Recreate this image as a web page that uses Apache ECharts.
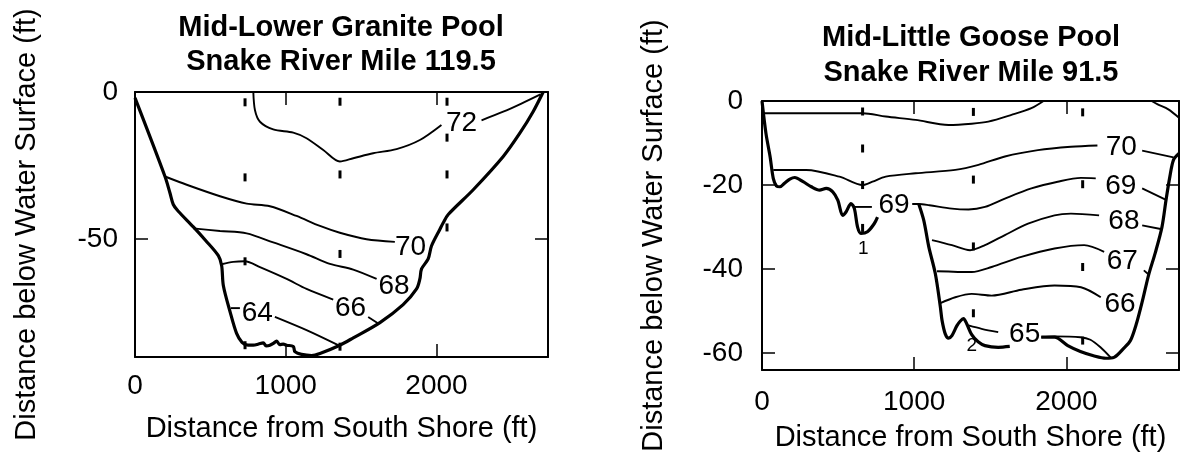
<!DOCTYPE html>
<html><head><meta charset="utf-8">
<script src="https://cdn.jsdelivr.net/npm/echarts@6/dist/echarts.min.js"></script>
<style>html,body{margin:0;padding:0;background:#fff}#c{width:1183px;height:453px}</style>
</head><body><div id="c"></div>
<script>
// ---------------- Left panel: Mid-Lower Granite Pool, Snake River Mile 119.5 ----------------
const leftTitle = ['Mid-Lower Granite Pool', 'Snake River Mile 119.5'];
const leftXLabels = [0, 1000, 2000];
const leftYLabels = [0, -50];
const leftYTicks = [-50];
const leftXRange = [0, 2740];
const leftYRange = [-90, 0];

const leftBank = [[0,-2],[199,-28.7],[232,-34.3],[254,-38.2],[287,-40.5],[387,-45.8],[470,-50.5],[553,-55.6],[575,-59],[586,-65.7],[630,-74.5],[674,-82],[710,-85],[750,-86],[785,-86],[820,-85.6],[851,-85.2],[870,-86.2],[895,-86],[920,-85.3],[939,-84.6],[960,-85.8],[984,-85.6],[1006,-86],[1050,-86.4],[1061,-88.2],[1105,-89.1],[1172,-89.5],[1227,-88.8],[1359,-86],[1448,-83.5],[1625,-78.3],[1779,-72.2],[1868,-66.9],[1890,-63.5],[1901,-60.1],[1945,-56.7],[1967,-52.3],[2023,-46.6],[2045,-44.4],[2078,-41.6],[2244,-33.2],[2443,-21.9],[2553,-14],[2641,-6.7],[2708,0]];
const leftC72a = [[785,0],[796,-6.2],[829,-10.1],[917,-12.7],[1050,-13.8],[1138,-15.7],[1249,-19.7],[1359,-23.6],[1448,-22.5],[1580,-20.8],[1735,-19.4],[1890,-16.3],[2033,-11.2]];
const leftC72b = [[2299,-9.6],[2443,-6.7],[2560,-4],[2690,-0.8]];
const leftC70 = [[199,-28.7],[343,-31.5],[564,-35.4],[741,-37.9],[895,-38.8],[1072,-42.1],[1227,-45.5],[1359,-47.8],[1536,-50],[1724,-50.9]];
const leftC68 = [[387,-46.3],[564,-47.2],[741,-48],[917,-51.1],[1138,-55.1],[1293,-58.4],[1448,-60.3],[1603,-63.5]];
const leftC66a = [[575,-58.5],[652,-57.7],[729,-57.5],[829,-59.5],[1006,-63.5],[1138,-66.9],[1315,-70.5]];
const leftC66b = [[1547,-76.4],[1614,-78.6]];
const leftC64a = [[636,-73.4],[696,-73.4]];
const leftC64b = [[928,-76.4],[1138,-80.9],[1348,-86]];
const leftLabels = [[2166,-10.7,'72'],[1828,-52.8,'70'],[1718,-66,'68'],[1430,-73.6,'66'],[811,-75.3,'64']];
const leftSamples = [[730,-3.5],[730,-29],[730,-57.5],[730,-86],[1360,-3.3],[1360,-28],[1360,-55],[1360,-86.5],[2070,-3.3],[2070,-15.5],[2070,-28],[2070,-46]];

// ---------------- Right panel: Mid-Little Goose Pool, Snake River Mile 91.5 ----------------
const rightTitle = ['Mid-Little Goose Pool', 'Snake River Mile 91.5'];
const rightXLabels = [0, 1000, 2000];
const rightYLabels = [0, -20, -40, -60];
const rightYTicks = [-20, -40, -60];
const rightXRange = [0, 2740];
const rightYRange = [-64, 0];

const rightBankA = [[0,0],[26,-7.7],[53,-13.2],[74,-18.4],[95,-20.2],[118,-20.4],[150,-19.5],[183,-18.6],[215,-18.2],[270,-19.2],[324,-20.4],[378,-21.2],[422,-20.8],[465,-21.6],[498,-23.6],[530,-27.2],[552,-26.4],[585,-24.4],[607,-25.6],[628,-30],[650,-31.5],[693,-31.1],[737,-29.2],[759,-27.6]];
const rightBankB = [[1030,-24.5],[1063,-28.4],[1096,-34.7],[1139,-41.1],[1172,-49],[1183,-52.2],[1204,-55.4],[1226,-56.4],[1248,-55.8],[1280,-53.5],[1302,-52.4],[1324,-51.8],[1345,-53],[1378,-55.6],[1420,-57.3],[1465,-58.2],[1552,-58.6],[1628,-58.4]];
const rightBankC = [[1835,-56.2],[1922,-56.2],[2009,-58.2],[2092,-59.6],[2178,-60.6],[2260,-61.2],[2313,-61],[2378,-58.8],[2421,-57],[2460,-53],[2500,-47.5],[2541,-41.3],[2585,-36],[2628,-30],[2655,-23.5],[2680,-18],[2704,-14],[2740,-12.5]];
const rightC71a = [[10,-2.9],[291,-2.9],[661,-2.9],[813,-3.7],[1009,-4.5],[1226,-5.7],[1378,-5.4],[1487,-4.9],[1639,-3.3],[1770,-1.7],[1850,0]];
const rightC71b = [[2560,0],[2600,-0.8],[2670,-2],[2740,-4]];
const rightC70a = [[74,-16.4],[291,-16.4],[509,-18],[661,-20],[726,-19.2],[813,-18],[1009,-17.2],[1270,-16.4],[1422,-15.2],[1596,-13.2],[1813,-11.7],[2030,-10.9],[2204,-10.6]];
const rightC70b = [[2498,-11.8],[2704,-13.4]];
const rightC69a = [[607,-25.2],[722,-25.2]];
const rightC69b = [[987,-24.5],[1030,-24.5],[1100,-24.8],[1248,-25.6],[1357,-25.8],[1465,-25.2],[1596,-23.2],[1770,-20.8],[1943,-19.2],[2096,-18.3],[2193,-18.4]];
const rightC69c = [[2498,-20.8],[2655,-23.5]];
const rightC68a = [[1117,-33.1],[1248,-34.3],[1367,-35.5],[1465,-34.3],[1596,-31.9],[1748,-29.2],[1922,-27.2],[2030,-26.8],[2215,-27.2]];
const rightC68b = [[2498,-29.6],[2628,-30.5]];
const rightC67a = [[1150,-40.5],[1378,-40.7],[1509,-39.5],[1704,-37.1],[1922,-35.1],[2117,-34.3],[2248,-35.9]];
const rightC67b = [[2509,-40.3],[2541,-41.3]];
const rightC66 = [[1172,-48.1],[1270,-46.7],[1378,-45.9],[1509,-46.3],[1704,-44.9],[1922,-43.9],[2096,-44.3],[2226,-46.7]];
const rightC65a = [[1357,-53.4],[1443,-54.2],[1552,-55]];
const rightC65b = [[1835,-56.2],[1922,-56],[2092,-56.2],[2158,-56.8],[2224,-58.6],[2290,-61]];
const rightLabels = [[2361,-11,'70'],[2357,-20.2,'69'],[867,-24.8,'69'],[2378,-28.5,'68'],[2367,-38.1,'67'],[2352,-48.4,'66'],[1726,-55.4,'65']];
const rightSmallLabels = [[665,-35.2,'1'],[1378,-58.3,'2']];
const rightSamples = [[661,-2.5],[661,-11.3],[661,-20],[661,-30.2],[1389,-2.6],[1389,-18.7],[1389,-34.6],[1389,-50.5],[2107,-2.7],[2107,-19.8],[2107,-39.5],[2107,-57]];

const xName = 'Distance from South Shore (ft)';
const yName = 'Distance below Water Surface (ft)';

// ---------------- chart ----------------
const FONT = '"Liberation Sans", Arial, Helvetica, sans-serif';
const BLACK = '#000';
const CONTOUR_W = 1.9;
const BANK_W = 3.2;
const chart = echarts.init(document.getElementById('c'), null, {renderer: 'canvas'});

function lineS(data, gi, width) {
  return {type: 'line', data: data, xAxisIndex: gi * 2, yAxisIndex: gi * 2, symbol: 'none',
    smooth: 0.3, silent: true, lineStyle: {color: BLACK, width: width, opacity: 1}, z: width > 2.5 ? 3 : 2};
}
function labelS(data, gi, size) {
  return {type: 'scatter', data: data, xAxisIndex: gi * 2, yAxisIndex: gi * 2, symbolSize: 0, silent: true,
    itemStyle: {opacity: 1},
    label: {show: true, position: 'inside', formatter: p => p.value[2], fontSize: size, color: BLACK,
      opacity: 1, fontFamily: FONT}, z: 5};
}
function sampleS(data, gi) {
  return {type: 'scatter', data: data, xAxisIndex: gi * 2, yAxisIndex: gi * 2, symbol: 'rect',
    symbolSize: [3, 8], itemStyle: {color: BLACK, opacity: 1}, silent: true, z: 4};
}
const axisLine = {show: true, onZero: false, lineStyle: {color: BLACK, width: 2}};
const plainNum = v => String(v);
function xAxes(gi, range, labels, gap, margin) {
  return [
    {gridIndex: gi, type: 'value', position: 'bottom', min: range[0], max: range[1],
      axisLine: axisLine, splitLine: {show: false},
      axisTick: {show: true, inside: true, length: 13, customValues: [1000, 2000], lineStyle: {color: BLACK, width: 1.5}},
      axisLabel: {customValues: labels, formatter: plainNum, fontSize: 28, color: BLACK, fontFamily: FONT, margin: margin},
      name: xName, nameLocation: 'middle', nameGap: gap,
      nameTextStyle: {fontSize: 29, color: BLACK, fontFamily: FONT}},
    {gridIndex: gi, type: 'value', position: 'top', min: range[0], max: range[1],
      axisLine: axisLine, splitLine: {show: false},
      axisTick: {show: true, inside: true, length: 13, customValues: [1000, 2000], lineStyle: {color: BLACK, width: 1.5}},
      axisLabel: {show: false}}
  ];
}
function yAxes(gi, range, labels, ticks, gap, margin) {
  return [
    {gridIndex: gi, type: 'value', position: 'left', min: range[0], max: range[1],
      axisLine: axisLine, splitLine: {show: false},
      axisTick: {show: true, inside: true, length: 13, customValues: ticks, lineStyle: {color: BLACK, width: 1.5}},
      axisLabel: {customValues: labels, formatter: plainNum, fontSize: 28, color: BLACK, fontFamily: FONT, margin: margin},
      name: yName, nameLocation: 'middle', nameGap: gap, nameRotate: 90,
      nameTextStyle: {fontSize: 29, color: BLACK, fontFamily: FONT}},
    {gridIndex: gi, type: 'value', position: 'right', min: range[0], max: range[1],
      axisLine: axisLine, splitLine: {show: false},
      axisTick: {show: true, inside: true, length: 13, customValues: ticks, lineStyle: {color: BLACK, width: 1.5}},
      axisLabel: {show: false}}
  ];
}
function titleText(lines, cx, y1, y2) {
  return lines.map((t, i) => ({type: 'text', x: cx, y: i === 0 ? y1 : y2, silent: true,
    style: {text: t, textAlign: 'center', textVerticalAlign: 'middle', fill: BLACK,
      font: 'bold 29px ' + FONT}}));
}

const series = [
  lineS(leftBank, 0, BANK_W), lineS(leftC72a, 0, CONTOUR_W), lineS(leftC72b, 0, CONTOUR_W), lineS(leftC70, 0, CONTOUR_W),
  lineS(leftC68, 0, CONTOUR_W), lineS(leftC66a, 0, CONTOUR_W), lineS(leftC66b, 0, CONTOUR_W), lineS(leftC64a, 0, CONTOUR_W),
  lineS(leftC64b, 0, CONTOUR_W), labelS(leftLabels, 0, 28), sampleS(leftSamples, 0),
  lineS(rightBankA, 1, BANK_W), lineS(rightBankB, 1, BANK_W), lineS(rightBankC, 1, BANK_W),
  lineS(rightC71a, 1, CONTOUR_W), lineS(rightC71b, 1, CONTOUR_W), lineS(rightC70a, 1, CONTOUR_W), lineS(rightC70b, 1, CONTOUR_W),
  lineS(rightC69a, 1, CONTOUR_W), lineS(rightC69b, 1, CONTOUR_W), lineS(rightC69c, 1, CONTOUR_W),
  lineS(rightC68a, 1, CONTOUR_W), lineS(rightC68b, 1, CONTOUR_W), lineS(rightC67a, 1, CONTOUR_W), lineS(rightC67b, 1, CONTOUR_W),
  lineS(rightC66, 1, CONTOUR_W), lineS(rightC65a, 1, CONTOUR_W), lineS(rightC65b, 1, CONTOUR_W),
  labelS(rightLabels, 1, 28), labelS(rightSmallLabels, 1, 19), sampleS(rightSamples, 1)
];

chart.setOption({
  animation: false,
  backgroundColor: '#fff',
  grid: [
    {left: 135, top: 92, width: 413, height: 265, containLabel: false, outerBoundsMode: 'none'},
    {left: 762, top: 101, width: 417, height: 269, containLabel: false, outerBoundsMode: 'none'}
  ],
  xAxis: [].concat(xAxes(0, leftXRange, leftXLabels, 57, 15), xAxes(1, rightXRange, rightXLabels, 53, 18)),
  yAxis: [].concat(yAxes(0, leftYRange, leftYLabels, leftYTicks, 94, 17), yAxes(1, rightYRange, rightYLabels, rightYTicks, 94, 19)),
  graphic: [].concat(titleText(leftTitle, 341, 28, 62), titleText(rightTitle, 971, 38, 73)),
  series: series
});
</script>
</body></html>
